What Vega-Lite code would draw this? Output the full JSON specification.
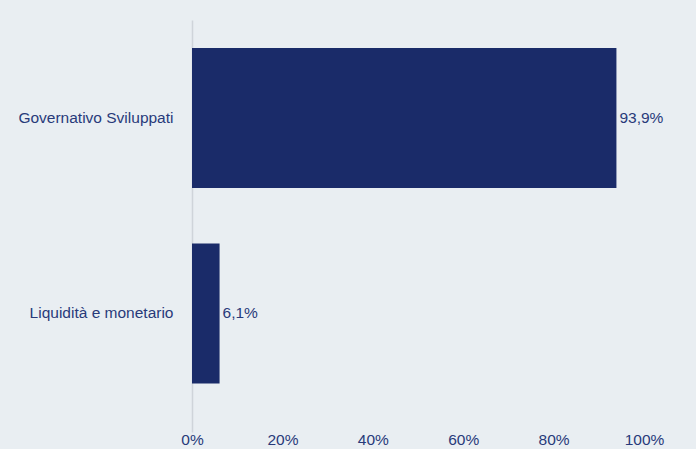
{
  "$schema": "https://vega.github.io/schema/vega-lite/v6.json",
  "autosize": {"type": "none"},
  "width": 452,
  "height": 412,
  "padding": {"left": 192, "top": 20, "right": 52, "bottom": 17},
  "background": "#e9eef2",
  "config": {
    "view": {"stroke": null},
    "font": "Liberation Sans",
    "locale": {"number": {"decimal": ",", "thousands": ".", "grouping": [3], "currency": ["€", ""]}}
  },
  "data": {
    "values": [
      {"categoria": "Governativo Sviluppati", "peso": 0.939},
      {"categoria": "Liquidità e monetario", "peso": 0.061}
    ]
  },
  "encoding": {
    "y": {
      "field": "categoria",
      "type": "nominal",
      "sort": null,
      "title": null,
      "scale": {"paddingInner": 0.284, "paddingOuter": 0.196, "align": 0.366},
      "axis": {
        "ticks": false,
        "domain": true,
        "domainColor": "#cfd4da",
        "domainWidth": 1.5,
        "labelPadding": 19,
        "labelFontSize": 15.5,
        "labelColor": "#283a7a",
        "labelFont": "Liberation Sans"
      }
    },
    "x": {
      "field": "peso",
      "type": "quantitative",
      "title": null,
      "scale": {"domain": [0, 1], "nice": false},
      "axis": {
        "format": ".0%",
        "values": [0, 0.2, 0.4, 0.6, 0.8, 1],
        "grid": false,
        "ticks": false,
        "domain": false,
        "labelFlush": false,
        "labelPadding": 0,
        "labelFontSize": 15.5,
        "labelColor": "#283a7a",
        "labelFont": "Liberation Sans"
      }
    }
  },
  "layer": [
    {"mark": {"type": "bar", "color": "#1a2b69"}},
    {
      "mark": {"type": "text", "align": "left", "baseline": "middle", "dx": 3, "fontSize": 15.5, "color": "#283a7a", "font": "Liberation Sans"},
      "encoding": {"text": {"field": "peso", "type": "quantitative", "format": ".1%"}}
    }
  ]
}
